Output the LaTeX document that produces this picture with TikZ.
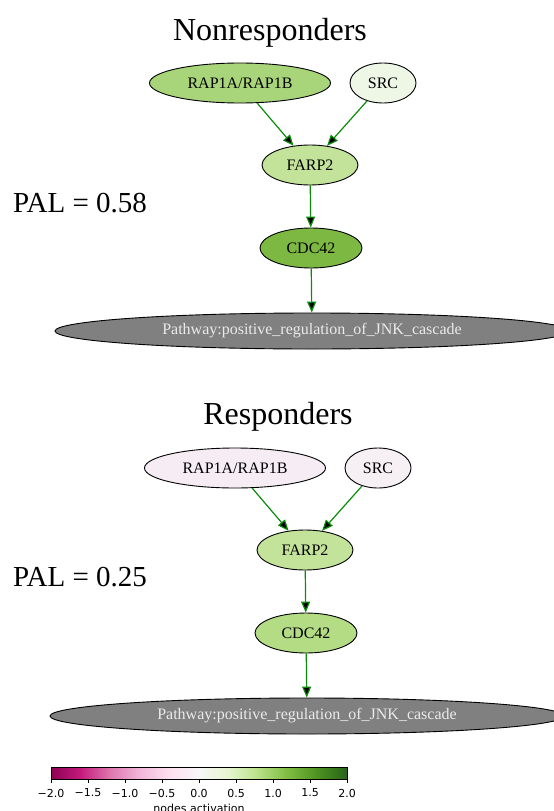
\documentclass[tikz,border=0pt]{standalone}
\usepackage{fontspec}
\setmainfont{Liberation Serif}
\newfontfamily\cbarfont{DejaVu Sans}
\usetikzlibrary{shapes.geometric,arrows.meta}

\definecolor{rapNon}{HTML}{A8D57A}
\definecolor{srcNon}{HTML}{EEF6E6}
\definecolor{farpNon}{HTML}{C3E39B}
\definecolor{cdcNon}{HTML}{7DB843}
\definecolor{rapRes}{HTML}{F5EDF3}
\definecolor{srcRes}{HTML}{F6EFF4}
\definecolor{farpRes}{HTML}{C3E39B}
\definecolor{cdcRes}{HTML}{B3DC84}
\definecolor{pathGray}{HTML}{808080}
\definecolor{actGreen}{HTML}{0A8C0A}
\definecolor{pg0}{HTML}{8E0152}
\definecolor{pg1}{HTML}{C51B7D}
\definecolor{pg2}{HTML}{DE77AE}
\definecolor{pg3}{HTML}{F1B6DA}
\definecolor{pg4}{HTML}{FDE0EF}
\definecolor{pg5}{HTML}{F7F7F7}
\definecolor{pg6}{HTML}{E6F5D0}
\definecolor{pg7}{HTML}{B8E186}
\definecolor{pg8}{HTML}{7FBC41}
\definecolor{pg9}{HTML}{4D9221}
\definecolor{pg10}{HTML}{276419}

\tikzstyle{gene} = [ellipse,draw=black,line width=0.9pt,inner sep=0pt,minimum height=40pt,font=\fontsize{16}{18}\selectfont]
\tikzstyle{pathway} = [ellipse,draw=black,line width=0.9pt,fill=pathGray,text=white!92!black,inner sep=0pt,minimum width=514pt,minimum height=36pt,font=\fontsize{16}{18}\selectfont]
\tikzstyle{heading} = [anchor=base,inner sep=0pt,font=\fontsize{32}{36}\selectfont]
\tikzstyle{pal} = [anchor=base west,inner sep=0pt,font=\fontsize{29}{32}\selectfont]
\tikzstyle{act} = [draw=actGreen,line width=1.2pt,-{Triangle[length=11pt,width=9pt]}]
\tikzstyle{tick} = [inner sep=0pt,font=\cbarfont\fontsize{11}{13}\selectfont]

\begin{document}
\begin{tikzpicture}[x=1pt,y=-1pt]
	\useasboundingbox (0,0) rectangle (554,811);

	\node (t_non) [heading] at (270,40) {Nonresponders};
	\node (pal_non) [pal] at (13,212) {PAL = 0.58};
	\node (rap_non) [gene,fill=rapNon,minimum width=181pt] at (240,83) {RAP1A/RAP1B};
	\node (src_non) [gene,fill=srcNon,minimum width=66pt] at (383,83) {SRC};
	\node (farp_non) [gene,fill=farpNon,minimum width=96pt] at (310,165) {FARP2};
	\node (cdc_non) [gene,fill=cdcNon,minimum width=102pt] at (311,248) {CDC42};
	\node (jnk_non) [pathway] at (312,331) {Pathway:positive\_regulation\_of\_JNK\_cascade};

	\node (t_res) [heading] at (278,424) {Responders};
	\node (pal_res) [pal] at (13,586) {PAL = 0.25};
	\node (rap_res) [gene,fill=rapRes,minimum width=181pt] at (235,468) {RAP1A/RAP1B};
	\node (src_res) [gene,fill=srcRes,minimum width=66pt] at (378,468) {SRC};
	\node (farp_res) [gene,fill=farpRes,minimum width=96pt] at (305,550) {FARP2};
	\node (cdc_res) [gene,fill=cdcRes,minimum width=102pt] at (306,633) {CDC42};
	\node (jnk_res) [pathway] at (307,716) {Pathway:positive\_regulation\_of\_JNK\_cascade};

	\path[act]
		(rap_non) edge (farp_non)
		(src_non) edge (farp_non)
		(farp_non) edge (cdc_non)
		(cdc_non) edge (jnk_non)

		(rap_res) edge (farp_res)
		(src_res) edge (farp_res)
		(farp_res) edge (cdc_res)
		(cdc_res) edge (jnk_res)
		;

	\foreach \i [evaluate=\i as \j using int(\i+1)] in {0,...,9}
		\shade[left color=pg\i,right color=pg\j] (51+29.6*\i,767) rectangle (51+29.6*\i+29.6,779);
	\draw[line width=0.8pt] (51,767) rectangle (347,779);
	\foreach \k/\lab in {0/−2.0,1/−1.5,2/−1.0,3/−0.5,4/0.0,5/0.5,6/1.0,7/1.5,8/2.0} {
		\draw[line width=0.8pt] (51+37*\k,779) -- (51+37*\k,783);
		\node (tick\k) [tick] at (51+37*\k,793) {\lab};
	}
	\node (cbar_label) [tick] at (199,808) {nodes activation};
\end{tikzpicture}
\end{document}
